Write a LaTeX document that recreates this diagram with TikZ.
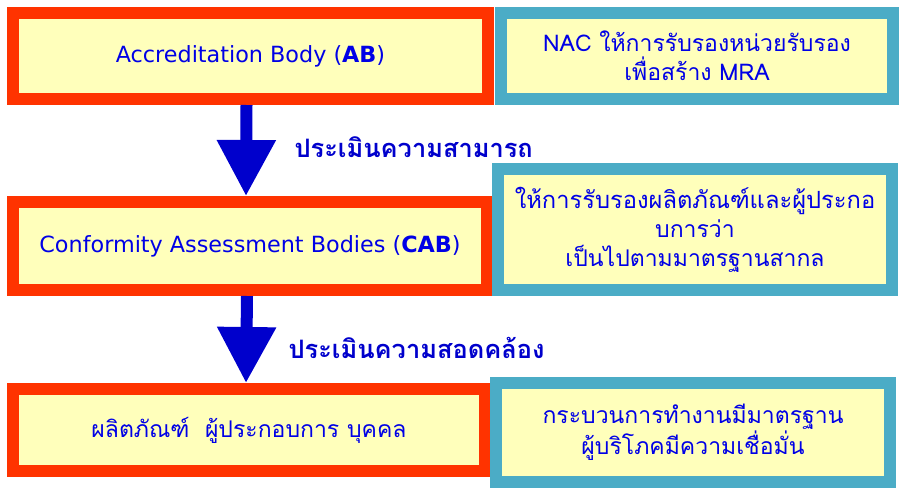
\documentclass[tikz,border=0pt]{standalone}
\usepackage{fontspec}
\setmainfont{DejaVu Sans}
\newfontfamily\thaifont[Script=Thai]{Loma}
\usetikzlibrary{arrows.meta}
\definecolor{boxred}{HTML}{FF3300}
\definecolor{boxblue}{HTML}{4BACC6}
\definecolor{boxyellow}{HTML}{FFFFBB}
\definecolor{textblue}{HTML}{0000E6}
\definecolor{arrowblue}{HTML}{0000CC}
\tikzset{
  redbox/.style={draw=boxred, fill=boxyellow, line width=12pt, outer sep=6pt,
    inner sep=0pt, align=center, text=textblue},
  bluebox/.style={draw=boxblue, fill=boxyellow, line width=12pt, outer sep=6pt,
    inner sep=0pt, align=center, text=textblue},
  latintext/.style={font=\fontsize{22.3}{29}\selectfont},
  thaitext/.style={font=\thaifont\fontsize{23}{29}\selectfont},
  steplabel/.style={anchor=west, text=arrowblue, font=\thaifont\bfseries\fontsize{25.4}{29}\selectfont},
  bigarrow/.style={draw=arrowblue, line width=12pt, -{Triangle[width=56pt,length=56pt]}}
}
\begin{document}
\begin{tikzpicture}[x=1pt,y=-1pt]
    \useasboundingbox (0,0) rectangle (902,490);
    \node [redbox, latintext, minimum width=475pt, minimum height=86pt] (AB) at (250.5,56)
      {Accreditation Body (\textbf{AB})};
    \node [bluebox, thaitext, minimum width=392pt, minimum height=86pt] (AB_r) at (697,56)
      {NAC ให้การรับรองหน่วยรับรอง\\เพื่อสร้าง MRA};
    \node [redbox, latintext, minimum width=474pt, minimum height=88pt] (CAB) at (250,246)
      {Conformity Assessment Bodies (\textbf{CAB})};
    \node [bluebox, thaitext, minimum width=394pt, minimum height=121pt] (CAB_r) at (695,229.5)
      {\fontsize{23.7}{29}\selectfont ให้การรับรองผลิตภัณฑ์และผู้ประกอ\\บการว่า\\เป็นไปตามมาตรฐานสากล};
    \node [redbox, thaitext, minimum width=472pt, minimum height=82pt] (PR) at (249,430)
      {ผลิตภัณฑ์~~ผู้ประกอบการ บุคคล};
    \node [bluebox, thaitext, minimum width=394pt, minimum height=99pt] (PR_r) at (693,432.5)
      {กระบวนการทำงานมีมาตรฐาน\\ผู้บริโภคมีความเชื่อมั่น};
    \draw [bigarrow] ([xshift=-4pt]AB.south) -- ([xshift=-4pt]CAB.north);
    \draw [bigarrow] ([xshift=-3pt]CAB.south) -- ([xshift=-3pt]PR.north);
    \node [steplabel] (L1) at (291,147) {ประเมินความสามารถ};
    \node [steplabel] (L2) at (285,348) {ประเมินความสอดคล้อง};
\end{tikzpicture}
\end{document}
